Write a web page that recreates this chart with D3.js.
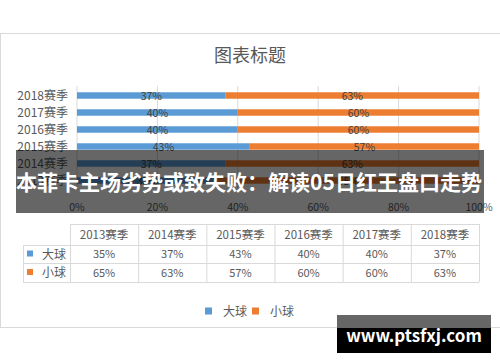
<!DOCTYPE html>
<head>
  <meta charset="utf-8">
  <script src="https://d3js.org/d3.v7.min.js"></script>
  <style>
    body { margin:0; padding:0; background:#fff; }
    text { font-family: "Noto Sans CJK SC", "Liberation Sans", sans-serif; }
  </style>
</head>
<body>
  <script>
    var width = 500, height = 362;

    // data
    var seasons = ["2013赛季", "2014赛季", "2015赛季", "2016赛季", "2017赛季", "2018赛季"];
    var bigBall = [35, 37, 43, 40, 40, 37];
    var smallBall = [65, 63, 57, 60, 60, 63];
    var seriesNames = ["大球", "小球"];
    var ticks = [0, 20, 40, 60, 80, 100];
    var colors = ["#5B9BD5", "#ED7D31"];

    var svg = d3.select("body").append("svg")
      .attr("width", width).attr("height", height);

    // chart card
    svg.append("rect")
      .attr("x", 0.5).attr("y", 33.5).attr("width", 520).attr("height", 294)
      .attr("fill", "#fff").attr("stroke", "#d9d9d9");

    svg.append("text")
      .attr("x", 250).attr("y", 62).attr("text-anchor", "middle")
      .attr("font-size", 18).attr("fill", "#595959")
      .text("图表标题");

    var x = d3.scaleLinear().domain([0, 100]).range([77, 479]);
    // 2018 at the top, 2013 at the bottom
    var y = d3.scaleBand().domain(seasons.slice().reverse()).range([87, 189]).paddingInner(0.62).paddingOuter(0.31);

    // gridlines
    svg.append("g").selectAll("line").data(ticks).enter().append("line")
      .attr("x1", function(d) { return x(d); }).attr("x2", function(d) { return x(d); })
      .attr("y1", 86).attr("y2", 189)
      .attr("stroke", "#d9d9d9").attr("stroke-width", 1);

    // x axis labels
    svg.append("g").selectAll("text").data(ticks).enter().append("text")
      .attr("x", function(d) { return x(d); }).attr("y", 211)
      .attr("text-anchor", "middle").attr("font-size", 10.5).attr("fill", "#595959")
      .text(function(d) { return d + "%"; });

    var rows = seasons.map(function(s, i) {
      return { season: s, parts: [
        { name: seriesNames[0], x0: 0, x1: bigBall[i], v: bigBall[i] },
        { name: seriesNames[1], x0: bigBall[i], x1: bigBall[i] + smallBall[i], v: smallBall[i] }
      ]};
    });

    var row = svg.append("g").selectAll("g").data(rows).enter().append("g")
      .attr("transform", function(d) { return "translate(0," + y(d.season) + ")"; });

    row.selectAll("rect").data(function(d) { return d.parts; }).enter().append("rect")
      .attr("x", function(d) { return x(d.x0); })
      .attr("width", function(d) { return x(d.x1) - x(d.x0); })
      .attr("height", y.bandwidth())
      .attr("fill", function(d, i) { return colors[i]; });

    row.selectAll("text.val").data(function(d) { return d.parts; }).enter().append("text")
      .attr("class", "val")
      .attr("x", function(d) { return (x(d.x0) + x(d.x1)) / 2; })
      .attr("y", y.bandwidth() / 2 + 4)
      .attr("text-anchor", "middle").attr("font-size", 10.5).attr("fill", "#404040")
      .text(function(d) { return d.v + "%"; });

    row.append("text")
      .attr("x", 68).attr("y", y.bandwidth() / 2 + 4.5)
      .attr("text-anchor", "end").attr("font-size", 12).attr("fill", "#595959")
      .text(function(d) { return d.season; });

    // data table
    var tx = d3.scaleBand().domain(seasons).range([70, 479]);
    var rowY = [224, 245, 263, 282];
    var t = svg.append("g").attr("stroke", "#d9d9d9").attr("fill", "none");
    t.append("line").attr("x1", 70).attr("x2", 479).attr("y1", rowY[0] + 0.5).attr("y2", rowY[0] + 0.5);
    [1, 2, 3].forEach(function(k) {
      t.append("line").attr("x1", 23).attr("x2", 479).attr("y1", rowY[k] + 0.5).attr("y2", rowY[k] + 0.5);
    });
    t.append("line").attr("x1", 23.5).attr("x2", 23.5).attr("y1", rowY[1]).attr("y2", rowY[3]);
    seasons.forEach(function(s) {
      t.append("line").attr("x1", tx(s) + 0.5).attr("x2", tx(s) + 0.5).attr("y1", rowY[0]).attr("y2", rowY[3]);
    });
    t.append("line").attr("x1", 479.5).attr("x2", 479.5).attr("y1", rowY[0]).attr("y2", rowY[3]);

    svg.append("g").selectAll("text").data(seasons).enter().append("text")
      .attr("x", function(d) { return tx(d) + tx.bandwidth() / 2; }).attr("y", 239)
      .attr("text-anchor", "middle").attr("font-size", 11.5).attr("fill", "#595959")
      .text(function(d) { return d; });

    [bigBall, smallBall].forEach(function(vals, k) {
      var cy = (rowY[k + 1] + rowY[k + 2]) / 2;
      svg.append("rect").attr("x", 27).attr("y", cy - 3.5).attr("width", 6).attr("height", 6).attr("fill", colors[k]);
      svg.append("text").attr("x", 42).attr("y", cy + 4.5).attr("font-size", 12).attr("fill", "#595959").text(seriesNames[k]);
      svg.append("g").selectAll("text").data(vals).enter().append("text")
        .attr("x", function(d, i) { return tx(seasons[i]) + tx.bandwidth() / 2; }).attr("y", cy + 4)
        .attr("text-anchor", "middle").attr("font-size", 11).attr("fill", "#595959")
        .text(function(d) { return d + "%"; });
    });

    // legend
    var lg = svg.append("g").attr("transform", "translate(205,311)");
    var lx = [0, 47];
    seriesNames.forEach(function(n, i) {
      lg.append("rect").attr("x", lx[i]).attr("y", -3.5).attr("width", 7).attr("height", 7).attr("fill", colors[i]);
      lg.append("text").attr("x", lx[i] + 18).attr("y", 4.5).attr("font-size", 12).attr("fill", "#595959").text(n);
    });

    // dark headline banner
    svg.append("rect").attr("x", 16).attr("y", 150).attr("width", 468).attr("height", 63)
      .attr("fill", "#000").attr("fill-opacity", 0.6);
    svg.append("text").attr("x", 249).attr("y", 190).attr("text-anchor", "middle")
      .attr("font-size", 21).attr("font-weight", "bold").attr("fill", "#fff")
      .text("本菲卡主场劣势或致失败：解读05日红王盘口走势");

    // watermark
    svg.append("rect").attr("x", 337).attr("y", 315).attr("width", 154).attr("height", 13).attr("fill", "#666");
    svg.append("rect").attr("x", 337).attr("y", 328).attr("width", 154).attr("height", 25).attr("fill", "#000");
    svg.append("text").attr("x", 414).attr("y", 342).attr("text-anchor", "middle")
      .attr("font-family", "DejaVu Sans").attr("font-size", 17).attr("font-weight", "bold").attr("fill", "#fff")
      .text("www.ptsfxj.com");
  </script>
</body>
